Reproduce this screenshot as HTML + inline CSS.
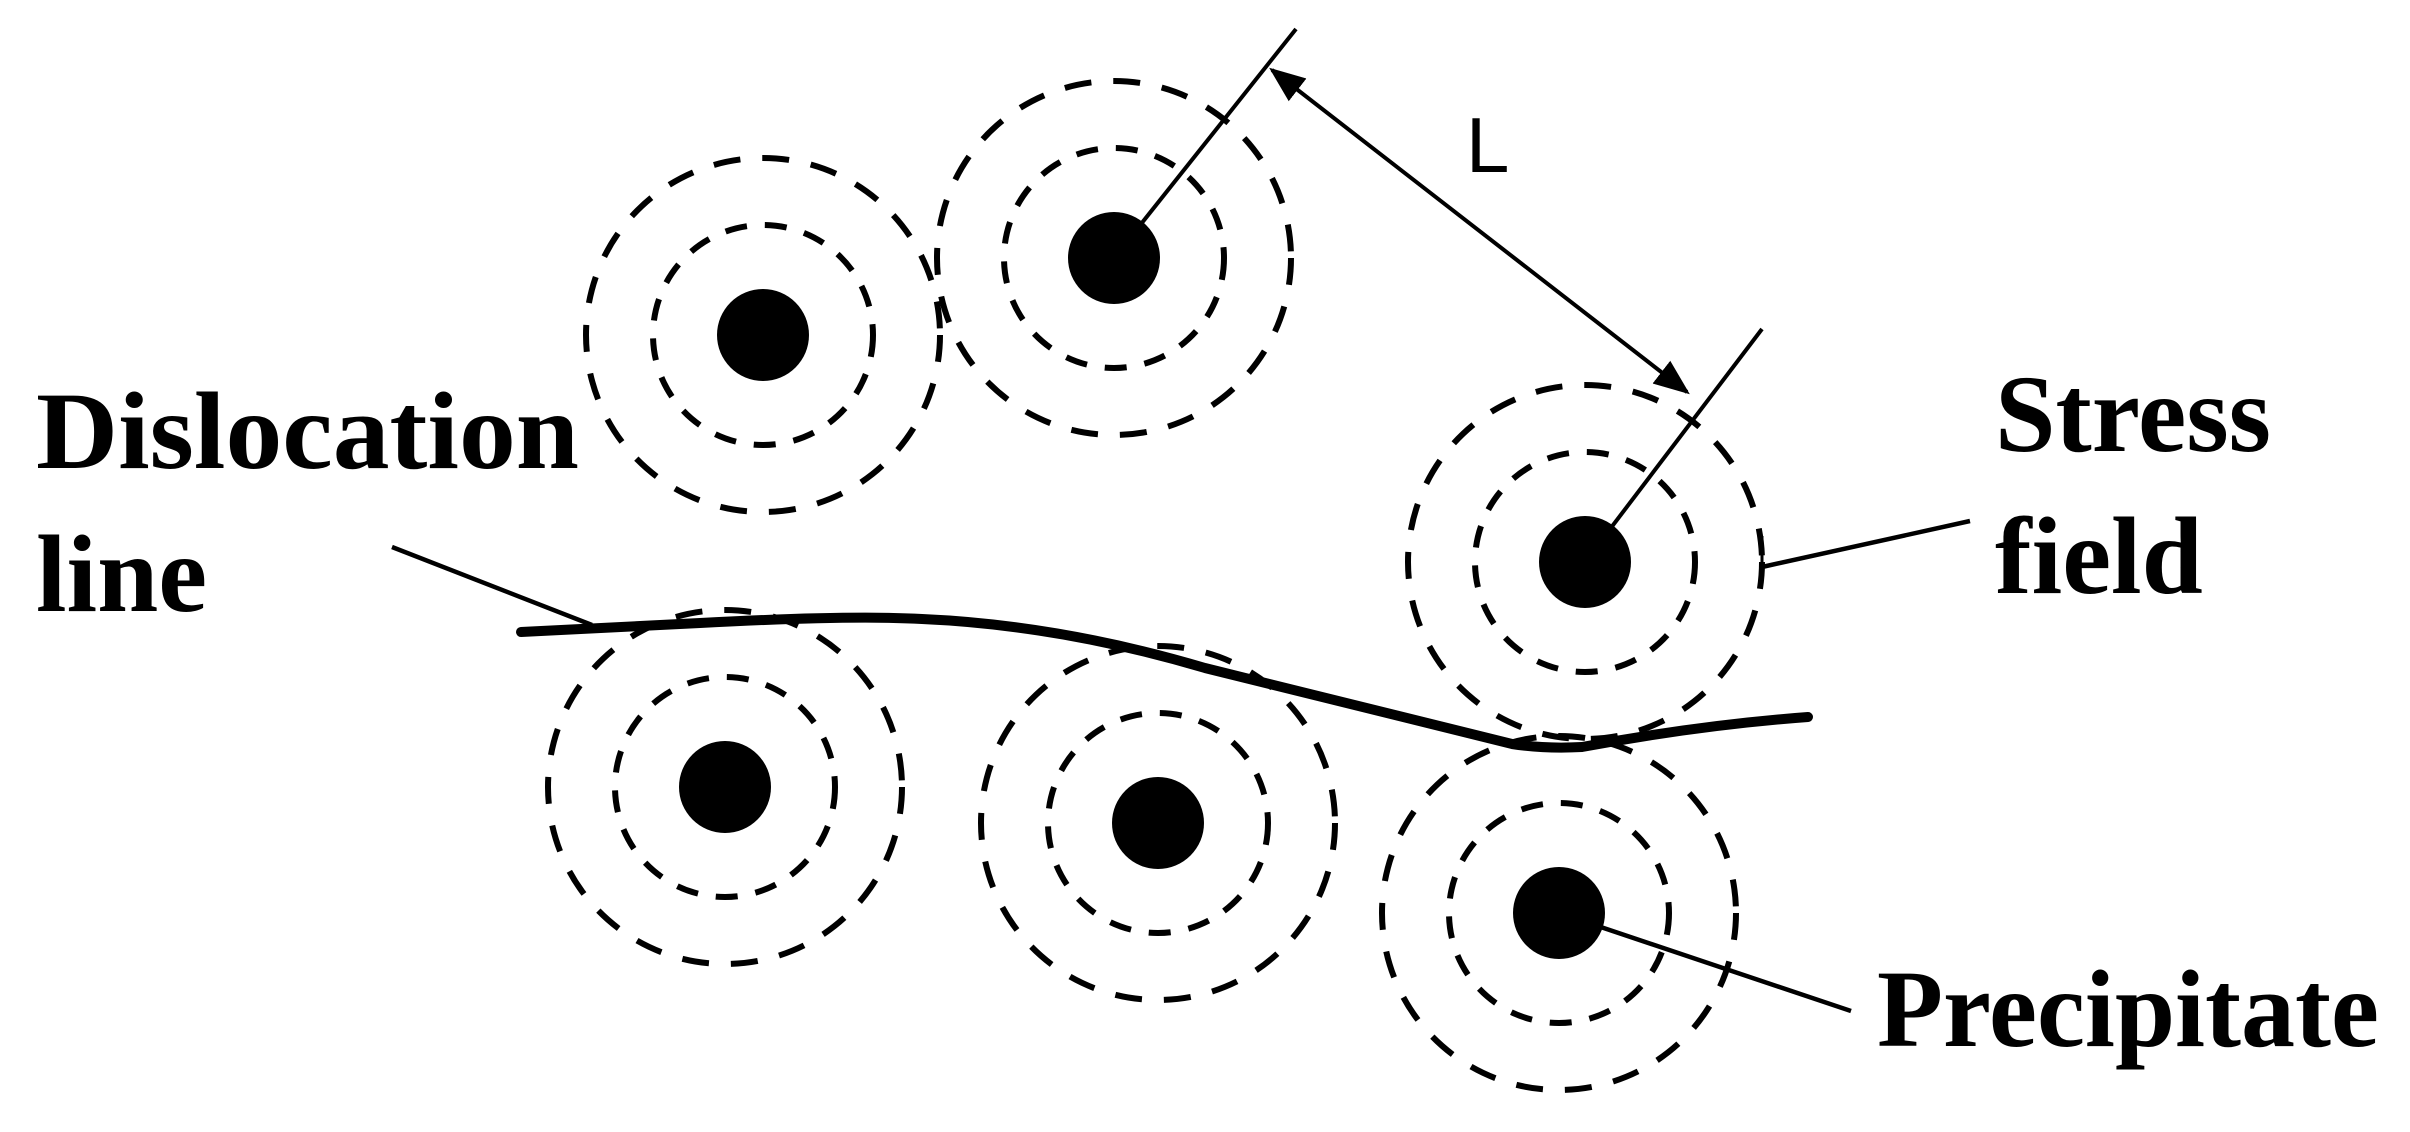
<!DOCTYPE html>
<html><head><meta charset="utf-8"><style>html,body{margin:0;padding:0;background:#fff}svg{display:block}</style></head>
<body>
<svg width="2410" height="1132" viewBox="0 0 2410 1132" xmlns="http://www.w3.org/2000/svg">
<defs>
<marker id="ah" viewBox="0 0 10 10" refX="9" refY="5" markerWidth="9" markerHeight="9" orient="auto-start-reverse" markerUnits="strokeWidth"><path d="M0,1 L10,5 L0,9 z" fill="#000"/></marker>
<g id="p">
<circle r="177" fill="none" stroke="#000" stroke-width="6" stroke-dasharray="27 22"/>
<circle r="110" fill="none" stroke="#000" stroke-width="6" stroke-dasharray="22 18"/>
<circle r="46" fill="#000"/>
</g>
</defs>
<use href="#p" x="763" y="335"/>
<use href="#p" x="1114" y="258"/>
<use href="#p" x="1585" y="562"/>
<use href="#p" x="725" y="787"/>
<use href="#p" x="1158" y="823"/>
<use href="#p" x="1559" y="913"/>
<path d="M521,632 L700,623 Q850,615 922,619 Q1060,625 1205,668 L1512,744 Q1545,749 1582,747 Q1700,725 1808,717" fill="none" stroke="#000" stroke-width="10" stroke-linecap="round"/>
<line x1="392" y1="547" x2="592" y2="625" stroke="#000" stroke-width="4.5"/>
<line x1="1114" y1="258" x2="1296" y2="29" stroke="#000" stroke-width="4"/>
<line x1="1585" y1="562" x2="1762" y2="329" stroke="#000" stroke-width="4"/>
<line x1="1272" y1="70" x2="1687" y2="392" stroke="#000" stroke-width="4" marker-start="url(#ah)" marker-end="url(#ah)"/>
<line x1="1762" y1="567" x2="1970" y2="521" stroke="#000" stroke-width="4.5"/>
<line x1="1762" y1="536" x2="1762" y2="568" stroke="#000" stroke-width="3"/>
<line x1="1559" y1="913" x2="1851" y2="1011" stroke="#000" stroke-width="4.5"/>
<text x="1466" y="172" font-family="Liberation Sans, sans-serif" font-size="78" fill="#000">L</text>
<g font-family="Liberation Serif, serif" font-weight="bold" font-size="110" fill="#000">
<text x="36" y="468" textLength="543" lengthAdjust="spacingAndGlyphs">Dislocation</text>
<text x="36" y="611">line</text>
<text x="1995" y="451" textLength="276" lengthAdjust="spacingAndGlyphs">Stress</text>
<text x="1995" y="593">field</text>
<text x="1877" y="1046" textLength="502" lengthAdjust="spacingAndGlyphs">Precipitate</text>
</g>
</svg>
</body></html>
